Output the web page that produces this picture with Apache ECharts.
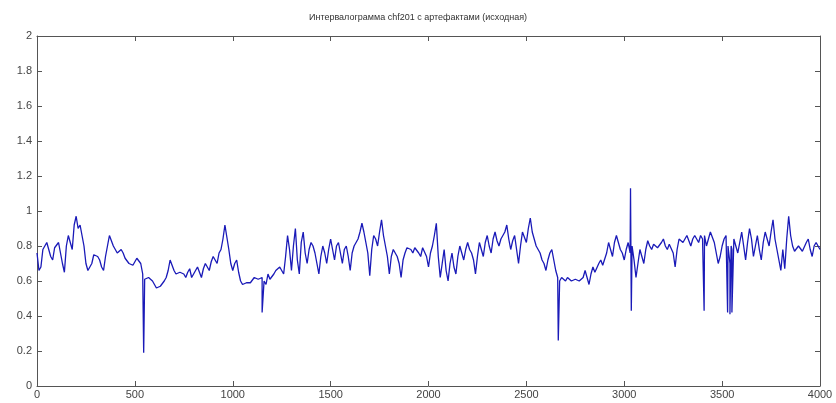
<!DOCTYPE html>
<html><head><meta charset="utf-8">
<script src="https://cdn.jsdelivr.net/npm/echarts@6/dist/echarts.min.js"></script>
<style>html,body{margin:0;padding:0;background:#fff}#c{width:836px;height:403px}</style>
</head><body><div id="c"></div>
<script>
const title = "Интервалограмма chf201 с артефактами (исходная)";
const xStep = 20;
// readings at x = 0, 20, 40, ... 4000
const rrBase = [
0.76,0.68,0.80,0.78,0.72,0.80,0.76,0.65,0.86,0.78,
0.97,0.92,0.80,0.66,0.70,0.76,0.72,0.66,0.80,0.85,
0.78,0.77,0.76,0.72,0.70,0.71,0.72,0.64,0.60,0.62,
0.58,0.57,0.58,0.62,0.72,0.66,0.63,0.66,0.62,0.67,
0.64,0.68,0.62,0.70,0.66,0.74,0.70,0.78,0.92,0.78,
0.66,0.72,0.60,0.59,0.58,0.60,0.63,0.60,0.60,0.64,
0.62,0.66,0.68,0.64,0.86,0.66,0.90,0.64,0.88,0.70,
0.82,0.76,0.64,0.80,0.70,0.84,0.72,0.82,0.70,0.80,
0.66,0.80,0.84,0.93,0.82,0.63,0.86,0.80,0.95,0.80,
0.64,0.78,0.74,0.62,0.76,0.80,0.76,0.80,0.74,0.78,
0.68,0.80,0.93,0.62,0.78,0.60,0.76,0.64,0.80,0.72,
0.82,0.76,0.64,0.82,0.74,0.86,0.76,0.88,0.80,0.86,
0.92,0.78,0.86,0.70,0.88,0.82,0.96,0.84,0.78,0.72,
0.66,0.76,0.72,0.62,0.62,0.60,0.61,0.59,0.62,0.60,
0.66,0.58,0.68,0.66,0.72,0.70,0.82,0.74,0.86,0.78,
0.72,0.82,0.80,0.62,0.78,0.70,0.83,0.78,0.82,0.80,
0.84,0.78,0.82,0.68,0.84,0.82,0.86,0.80,0.86,0.82,
0.84,0.80,0.88,0.82,0.70,0.80,0.86,0.70,0.84,0.76,
0.88,0.72,0.90,0.74,0.86,0.72,0.88,0.80,0.95,0.78,
0.66,0.67,0.97,0.80,0.78,0.80,0.78,0.84,0.74,0.82,
0.78
];
// readings at x = 10, 30, 50, ... 3990
const rrMid = [
0.66,0.78,0.82,0.74,0.79,0.82,0.70,0.80,0.82,0.92,
0.90,0.86,0.70,0.68,0.75,0.74,0.68,0.74,0.86,0.80,
0.76,0.78,0.73,0.70,0.69,0.73,0.70,0.61,0.62,0.60,
0.56,0.57,0.60,0.66,0.69,0.64,0.65,0.64,0.65,0.62,
0.66,0.65,0.67,0.68,0.71,0.72,0.76,0.84,0.85,0.70,
0.70,0.65,0.58,0.59,0.59,0.62,0.61,0.62,0.58,0.61,
0.64,0.67,0.66,0.74,0.78,0.80,0.72,0.82,0.76,0.78,
0.80,0.70,0.74,0.76,0.78,0.78,0.80,0.76,0.78,0.74,
0.76,0.82,0.88,0.88,0.76,0.78,0.84,0.88,0.86,0.74,
0.74,0.77,0.70,0.72,0.79,0.78,0.79,0.76,0.79,0.74,
0.76,0.86,0.74,0.70,0.66,0.70,0.68,0.74,0.76,0.78,
0.78,0.72,0.74,0.78,0.82,0.80,0.84,0.83,0.84,0.88,
0.84,0.83,0.78,0.80,0.85,0.90,0.88,0.80,0.76,0.70,
0.72,0.78,0.66,0.60,0.61,0.62,0.60,0.61,0.60,0.62,
0.62,0.64,0.65,0.70,0.69,0.76,0.78,0.82,0.82,0.76,
0.78,0.76,0.72,0.70,0.74,0.78,0.80,0.81,0.79,0.82,
0.80,0.81,0.76,0.78,0.85,0.84,0.83,0.84,0.85,0.86,
0.86,0.84,0.85,0.76,0.74,0.84,0.80,0.78,0.80,0.82,
0.80,0.82,0.84,0.80,0.78,0.82,0.84,0.88,0.84,0.72,
0.78,0.84,0.86,0.77,0.80,0.77,0.82,0.78,0.80,0.80
];
const artifactX = [545, 1150, 2663, 3032, 3036, 3408, 3528, 3534, 3540, 3546, 3550];
const artifactY = [0.19, 0.42, 0.26, 1.13, 0.43, 0.43, 0.42, 0.80, 0.41, 0.80, 0.42];
const xTicks = [0, 500, 1000, 1500, 2000, 2500, 3000, 3500, 4000];
const yTicks = [0, 0.2, 0.4, 0.6, 0.8, 1, 1.2, 1.4, 1.6, 1.8, 2];

const pts = rrBase.map((v, i) => [i * xStep, v]);
rrMid.forEach((v, i) => pts.push([i * xStep + xStep / 2, v]));
artifactX.forEach((x, i) => pts.push([x, artifactY[i]]));
pts.sort((a, b) => a[0] - b[0]);

const axisCol = '#555';
const lblCol = '#444';
const fam = 'Liberation Sans, Arial, sans-serif';
const chart = echarts.init(document.getElementById('c'), null, {renderer: 'canvas'});
const baseX = {type: 'value', min: xTicks[0], max: xTicks[xTicks.length - 1], interval: 500,
  axisLine: {show: true, onZero: false, lineStyle: {color: axisCol, width: 1}},
  axisTick: {show: true, inside: true, length: 5, lineStyle: {color: axisCol}},
  splitLine: {show: false}};
const baseY = {type: 'value', min: yTicks[0], max: yTicks[yTicks.length - 1], interval: 0.2,
  axisLine: {show: true, onZero: false, lineStyle: {color: axisCol, width: 1}},
  axisTick: {show: true, inside: true, length: 5, lineStyle: {color: axisCol}},
  splitLine: {show: false}};
chart.setOption({
  animation: false,
  backgroundColor: '#fff',
  title: {text: title, left: 'center', top: 8,
    textStyle: {fontSize: 9, fontWeight: 'normal', color: '#333', fontFamily: fam}},
  grid: {left: 37, right: 16, top: 36, bottom: 17, containLabel: false},
  xAxis: [
    Object.assign({}, baseX, {position: 'bottom',
      axisLabel: {show: true, margin: 3, color: lblCol, fontSize: 11, fontFamily: fam,
        formatter: v => String(v)}}),
    Object.assign({}, baseX, {position: 'top', axisLabel: {show: false}})
  ],
  yAxis: [
    Object.assign({}, baseY, {position: 'left',
      axisLabel: {show: true, margin: 5, color: lblCol, fontSize: 11, fontFamily: fam,
        formatter: v => String(Math.round(v * 10) / 10)}}),
    Object.assign({}, baseY, {position: 'right', axisLabel: {show: false}})
  ],
  series: [{type: 'line', data: pts, showSymbol: false, symbol: 'none',
    lineStyle: {color: '#1a1ab8', width: 1.3}, xAxisIndex: 0, yAxisIndex: 0}]
});
</script></body></html>
